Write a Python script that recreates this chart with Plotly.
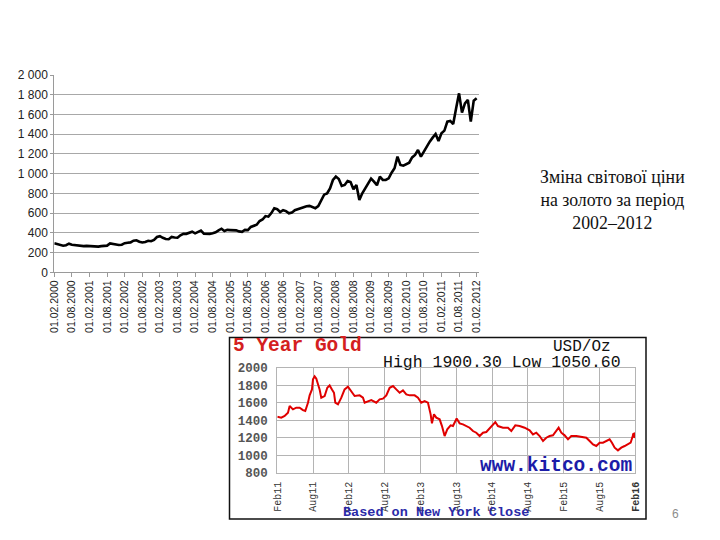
import plotly.graph_objects as go

# ---------------- Main chart data (monthly, 01.02.2000 .. 01.02.2012) ----------------
gold_price = [
    295, 285, 272, 270, 275, 290, 280, 276, 272, 262,
    265, 268, 265, 268, 258, 260, 265, 268, 270, 292,
    285, 278, 277, 280, 295, 300, 303, 320, 325, 310,
    302, 308, 320, 315, 328, 358, 366, 350, 338, 335,
    358, 352, 350, 375, 390, 390, 405, 412, 395, 405,
    422, 392, 388, 390, 395, 405, 425, 442, 418, 430,
    428, 430, 425, 415, 410, 430, 428, 460, 475, 482,
    520, 535, 570, 564, 600, 649, 640, 611, 630, 620,
    598, 605, 630, 640, 655, 665, 670, 673, 660, 650,
    670, 733, 787, 800, 851, 936, 970, 946, 875, 885,
    926, 915, 841, 885, 733, 801, 851, 902, 950, 919,
    882, 970, 936, 936, 953, 1010, 1054, 1172, 1088, 1081,
    1095, 1111, 1165, 1189, 1240, 1172, 1223, 1280, 1324, 1365,
    1402, 1331, 1409, 1436, 1527, 1534, 1503, 1662, 1814, 1618,
    1713, 1747, 1527, 1740, 1764,
]
month_index = list(range(len(gold_price)))

tick_months = [0, 6, 12, 18, 24, 30, 36, 42, 48, 54, 60, 66, 72,
               78, 84, 90, 96, 102, 108, 114, 120, 126, 132, 138, 144]
tick_labels = ["01.02.2000", "01.08.2000", "01.02.2001", "01.08.2001", "01.02.2002",
               "01.08.2002", "01.02.2003", "01.08.2003", "01.02.2004", "01.08.2004",
               "01.02.2005", "01.08.2005", "01.02.2006", "01.08.2006", "01.02.2007",
               "01.08.2007", "01.02.2008", "01.08.2008", "01.02.2009", "01.08.2009",
               "01.02.2010", "01.08.2010", "01.02.2011", "01.08.2011", "01.02.2012"]
y_ticks = [0, 200, 400, 600, 800, 1000, 1200, 1400, 1600, 1800, 2000]
y_tick_labels = ["0", "200", "400", "600", "800", "1 000", "1 200", "1 400",
                 "1 600", "1 800", "2 000"]

# ---------------- Kitco 5-year chart data (months since Feb 2011) ----------------
kitco_month = [0.0, 0.67, 1.23, 1.79, 2.07, 2.63, 3.18, 3.74, 4.30, 4.69,
               5.14, 5.42, 5.81, 5.98, 6.26, 6.54, 6.82, 7.09, 7.37, 7.93,
               8.38, 8.77, 9.16, 9.50, 9.72, 10.17, 10.73, 11.28, 11.84, 12.40,
               12.96, 13.80, 14.36, 14.64, 15.20, 15.75, 16.59, 17.15, 17.71, 18.27,
               18.83, 19.39, 19.94, 20.50, 21.06, 21.62, 22.18, 23.02, 23.58, 24.13,
               24.69, 25.25, 25.70, 25.92, 26.26, 26.65, 27.21, 27.60, 28.04, 28.49,
               29.05, 29.44, 30.06, 30.56, 31.12, 31.68, 32.23, 32.79, 33.35, 33.91,
               34.47, 35.03, 35.59, 36.15, 36.54, 36.98, 37.82, 38.66, 39.22, 39.89,
               40.61, 41.45, 42.29, 42.85, 43.41, 43.97, 44.53, 45.08, 45.64, 46.20,
               46.76, 47.15, 47.60, 48.16, 48.72, 49.27, 50.11, 50.95, 51.79, 52.35,
               52.91, 53.46, 54.02, 54.58, 55.14, 55.70, 56.09, 56.54, 57.09, 57.65,
               58.21, 58.77, 59.22, 59.66, 60.0]
kitco_price = [1440, 1429, 1448, 1486, 1562, 1524, 1543, 1543, 1516, 1505,
               1600, 1684, 1752, 1867, 1900, 1874, 1810, 1752, 1657, 1676,
               1771, 1798, 1752, 1714, 1600, 1581, 1657, 1752, 1783, 1733,
               1676, 1684, 1657, 1600, 1619, 1630, 1600, 1638, 1646, 1684,
               1771, 1790, 1752, 1714, 1741, 1695, 1684, 1684, 1657, 1600,
               1619, 1600, 1467, 1364, 1467, 1429, 1410, 1333, 1219, 1295,
               1341, 1333, 1420, 1364, 1353, 1333, 1314, 1276, 1257, 1219,
               1257, 1265, 1303, 1341, 1379, 1333, 1314, 1314, 1276, 1341,
               1333, 1314, 1284, 1238, 1257, 1219, 1162, 1200, 1219, 1227,
               1276, 1314, 1257, 1227, 1181, 1219, 1219, 1211, 1200, 1162,
               1124, 1105, 1143, 1143, 1162, 1181, 1143, 1086, 1055, 1086,
               1105, 1124, 1143, 1238, 1227]
kitco_ticks = [0, 6, 12, 18, 24, 30, 36, 42, 48, 54, 60]
kitco_tick_labels = ["Feb11", "Aug11", "Feb12", "Aug12", "Feb13", "Aug13",
                     "Feb14", "Aug14", "Feb15", "Aug15", "<b>Feb16</b>"]
kitco_y_ticks = [800, 1000, 1200, 1400, 1600, 1800, 2000]

W, H = 720, 540


def px(x):
    return x / W


def py(y):
    return 1 - y / H


fig = go.Figure()
fig.add_trace(go.Scatter(x=month_index, y=gold_price, mode="lines",
                         line=dict(color="#000000", width=2.6),
                         xaxis="x", yaxis="y", showlegend=False, hoverinfo="skip"))
fig.add_trace(go.Scatter(x=[None], y=[None], mode="lines", xaxis="x3", yaxis="y",
                         showlegend=False, hoverinfo="skip"))
fig.add_trace(go.Scatter(x=kitco_month, y=kitco_price, mode="lines",
                         line=dict(color="#e00000", width=2),
                         xaxis="x2", yaxis="y2", showlegend=False, hoverinfo="skip"))
fig.add_trace(go.Scatter(x=kitco_month[-1:], y=kitco_price[-1:], mode="markers",
                         marker=dict(color="#e00000", size=6),
                         xaxis="x2", yaxis="y2", showlegend=False, hoverinfo="skip"))

axis_gray = "#9a9a9a"
main_dom_x = [px(54.3), px(479.3)]
label_dom_x = [px(54.3 + 5.9), px(479.3 + 5.9)]  # labels sit a little right of ticks

fig.update_layout(
    width=W, height=H,
    margin=dict(l=0, r=0, t=0, b=0, autoexpand=False),
    paper_bgcolor="white", plot_bgcolor="white",
    font=dict(family="Liberation Sans, Arial, sans-serif", color="#222"),
    xaxis=dict(domain=main_dom_x, anchor="y", range=[0, 144.9], automargin=False,
               tickmode="array", tickvals=tick_months, showticklabels=False,
               ticks="outside", ticklen=4, tickcolor=axis_gray, tickwidth=1,
               showline=True, linecolor=axis_gray, linewidth=1,
               showgrid=False, zeroline=False),
    xaxis3=dict(domain=label_dom_x, anchor="y", overlaying="x", side="bottom",
                automargin=False,
                range=[0, 144.9], tickmode="array", tickvals=tick_months,
                ticktext=tick_labels, tickangle=-90, ticks="",
                ticklabelstandoff=5,
                tickfont=dict(size=10.5, color="#222",
                              family="Liberation Sans, Arial, sans-serif"),
                showline=False, showgrid=False, zeroline=False),
    yaxis=dict(domain=[py(272.3), py(75)], anchor="x", range=[0, 2000],
               automargin=False,
               tickmode="array", tickvals=y_ticks, ticktext=y_tick_labels,
               ticks="outside", ticklen=3, tickcolor=axis_gray,
               showline=True, linecolor=axis_gray, linewidth=1,
               showgrid=True, gridcolor="#a8a8a8", gridwidth=1, zeroline=False,
               tickfont=dict(size=12, color="#222",
                             family="Liberation Sans, Arial, sans-serif")),
    xaxis2=dict(domain=[px(277.3), px(635.3)], anchor="y2", range=[0, 60],
                automargin=False,
                tickmode="array", tickvals=kitco_ticks, ticktext=kitco_tick_labels,
                tickangle=-90, ticks="", ticklabelstandoff=4,
                tickfont=dict(size=10, color="#333",
                              family="Liberation Mono, Courier New, monospace"),
                showgrid=True, gridcolor="#b4b4b4", gridwidth=1,
                showline=True, mirror=True, linecolor="#b4b4b4",
                zeroline=False),
    yaxis2=dict(domain=[py(472.7), py(367.7)], anchor="x2", range=[800, 2000],
                automargin=False,
                tickmode="array", tickvals=kitco_y_ticks, ticks="",
                ticklabelstandoff=6,
                tickfont=dict(size=12.5, color="#555", weight="bold",
                              family="Liberation Mono, Courier New, monospace"),
                showgrid=True, gridcolor="#b4b4b4", gridwidth=1,
                showline=True, mirror=True, linecolor="#b4b4b4",
                zeroline=False),
    shapes=[dict(type="rect", xref="paper", yref="paper",
                 x0=px(229.5), x1=px(646), y0=py(519), y1=py(337.5),
                 line=dict(color="#111", width=1.5), fillcolor="rgba(0,0,0,0)",
                 layer="above")],
)

mono = "Liberation Mono, Courier New, monospace"
serif = "Liberation Serif, DejaVu Serif, serif"


def note(text, x, y, xanchor, font, align="left"):
    return dict(text=text, xref="paper", yref="paper", x=px(x), y=py(y),
                xanchor=xanchor, yanchor="middle", align=align,
                showarrow=False, font=font)


annotations = [
    note("Зміна світової ціни<br>на золото за період<br>2002–2012", 612.5, 200.5,
         "center", dict(family=serif, size=17.8, color="#111"), align="center"),
    note("6", 675, 514, "center", dict(size=12, color="#8c8c8c")),
    note("<b>5 Year Gold</b>", 231, 346, "left",
         dict(family=mono, size=19.5, color="#d42020")),
    note("USD/Oz", 551, 347, "left", dict(family=mono, size=16, color="#111")),
    note("High 1900.30 Low 1050.60", 381, 362, "left",
         dict(family=mono, size=16.5, color="#111")),
    note("<b>www.kitco.com</b>", 478, 466, "left",
         dict(family=mono, size=19.5, color="#1c1ca8")),
    note("<b>Based on New York Close</b>", 341, 512.5, "left",
         dict(family=mono, size=13.5, color="#2a2aa8")),
]
fig.update_layout(annotations=annotations)

fig.write_html("out.html",
               config={"displayModeBar": False},
               post_script="document.body.style.margin='0px';"
                           "document.body.style.padding='0px';")
